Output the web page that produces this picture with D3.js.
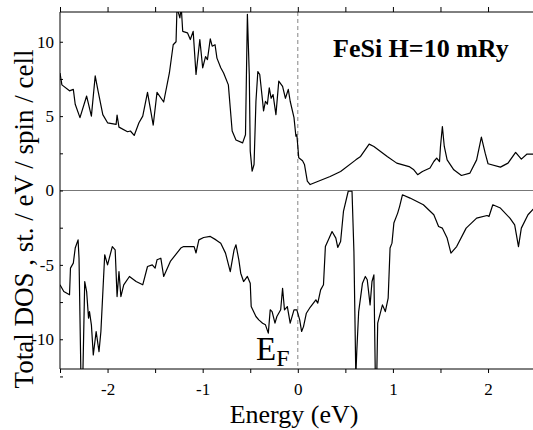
<!DOCTYPE html>
<html>
<head>
<meta charset="utf-8">
<script src="https://cdn.jsdelivr.net/npm/d3@7"></script>
<style>
  body { margin: 0; background: #fff; }
  text { font-family: "Liberation Serif", "Times New Roman", serif; }
  .axis path { display: none; }
  .axis line { stroke: #000; stroke-width: 1; }
  .axis text { font-size: 17px; fill: #000; font-family: "Liberation Serif", serif; }
</style>
</head>
<body>
<div id="chart"></div>
<script>
// spin-up DOS (upper panel)
var energyUp = [-2.50, -2.48, -2.40, -2.36, -2.34, -2.29, -2.22, -2.17, -2.13, -2.10, -2.05, -2.00,
  -1.91, -1.90, -1.88, -1.79, -1.76, -1.72, -1.67, -1.63, -1.58, -1.52, -1.48, -1.41, -1.35, -1.31,
  -1.28, -1.27, -1.24, -1.225, -1.21, -1.16, -1.13, -1.10, -1.07, -1.03, -1.00, -0.97, -0.95, -0.92,
  -0.90, -0.87, -0.85, -0.81, -0.78, -0.73, -0.71, -0.69, -0.65, -0.58, -0.55, -0.53, -0.51, -0.50,
  -0.48, -0.46, -0.44, -0.42, -0.40, -0.37, -0.36, -0.34, -0.32, -0.30, -0.28, -0.26, -0.23, -0.20,
  -0.16, -0.13, -0.10, -0.08, -0.04, -0.02, -0.01, 0.01, 0.05, 0.07, 0.10, 0.13, 0.34, 0.45, 0.61,
  0.66, 0.75, 0.80, 0.94, 1.04, 1.17, 1.22, 1.26, 1.31, 1.39, 1.43, 1.46, 1.49, 1.50, 1.52, 1.54,
  1.57, 1.64, 1.72, 1.81, 1.88, 1.93, 1.97, 2.00, 2.13, 2.21, 2.29, 2.35, 2.41, 2.50];
var dosUp = [7.9, 7.1, 6.7, 6.8, 5.8, 4.9, 6.35, 5.0, 7.7, 6.7, 5.1, 4.55,
  4.45, 5.07, 4.26, 3.95, 4.0, 3.7, 4.55, 5.0, 6.6, 4.4, 6.6, 5.95, 7.9, 9.8,
  10.0, 12.3, 11.6, 12.3, 10.7, 10.6, 10.15, 10.7, 7.8, 10.15, 8.25, 9.0, 8.8, 10.2,
  9.7, 9.8, 8.9, 8.25, 7.9, 7.1, 5.55, 4.0, 3.4, 3.2, 3.75, 11.85, 7.8, 2.65,
  1.3, 1.75, 6.0, 8.0, 7.8, 6.0, 5.35, 6.0, 5.8, 6.9, 6.2, 6.45, 5.1, 7.35,
  7.0, 6.2, 6.8, 6.0, 4.9, 3.65, 3.75, 2.2, 2.0, 1.75, 0.63, 0.4, 0.94, 1.28, 2.06,
  2.29, 3.12, 2.96, 2.29, 1.84, 1.61, 1.39, 1.06, 1.28, 1.51, 1.95, 2.18, 1.95, 2.96, 4.3, 2.96,
  2.06, 1.39, 1.01, 1.17, 2.06, 3.59, 2.51, 1.8, 1.57, 1.84, 2.56, 2.11, 2.45, 2.45];

// spin-down DOS (lower panel, plotted negative)
var energyDn = [-2.50, -2.46, -2.40, -2.39, -2.36, -2.34, -2.31, -2.30, -2.28, -2.26, -2.24, -2.22,
  -2.20, -2.19, -2.17, -2.15, -2.12, -2.09, -2.07, -2.03, -2.00, -1.95, -1.92, -1.90, -1.88, -1.86,
  -1.83, -1.77, -1.70, -1.63, -1.58, -1.53, -1.50, -1.48, -1.44, -1.41, -1.34, -1.23, -1.20, -1.09,
  -1.07, -1.04, -0.99, -0.92, -0.86, -0.81, -0.76, -0.71, -0.67, -0.65, -0.62, -0.60, -0.57, -0.53,
  -0.50, -0.49, -0.44, -0.41, -0.37, -0.34, -0.31, -0.29, -0.27, -0.24, -0.22, -0.18, -0.16, -0.14,
  -0.11, -0.08, -0.04, -0.01, 0.02, 0.04, 0.06, 0.09, 0.13, 0.19, 0.21, 0.24, 0.27, 0.29, 0.33,
  0.36, 0.40, 0.42, 0.45, 0.48, 0.53, 0.57, 0.59, 0.61, 0.62, 0.64, 0.68, 0.71, 0.73, 0.76, 0.78,
  0.80, 0.815, 0.83, 0.84, 0.89, 0.92, 0.95, 0.97, 0.99, 1.01, 1.05, 1.07, 1.10, 1.18, 1.32, 1.43,
  1.48, 1.52, 1.57, 1.61, 1.67, 1.77, 1.88, 1.99, 2.01, 2.05, 2.13, 2.23, 2.28, 2.32, 2.35, 2.42, 2.50];
var dosDn = [-6.34, -6.79, -7.01, -5.22, -4.88, -3.87, -3.32, -4.55, -12.5, -12.5, -6.12, -6.79,
  -8.58, -8.14, -9.03, -11.05, -9.48, -10.83, -9.48, -4.32, -5.0, -3.77, -3.99, -7.13, -5.45, -7.13,
  -6.34, -5.78, -6.12, -6.34, -5.11, -5.0, -5.22, -4.66, -4.55, -5.78, -4.77, -3.87, -3.77, -3.77,
  -4.2, -3.32, -3.16, -3.09, -3.32, -3.54, -4.21, -5.45, -3.99, -3.65, -4.66, -5.56, -6.12, -5.78,
  -6.23, -7.8, -8.47, -8.70, -8.92, -9.03, -9.59, -8.02, -8.14, -8.92, -8.47, -8.02, -6.57, -8.02,
  -7.80, -8.92, -8.02, -8.02, -8.70, -9.48, -9.15, -8.25, -7.85, -7.35, -7.57, -6.68, -6.34, -3.77, -3.20,
  -2.76, -3.20, -3.83, -3.43, -1.41, -0.05, -0.05, -4.10, -12.5, -10.83, -8.14, -6.23, -5.78, -6.0, -7.69, -6.12,
  -5.67, -12.5, -12.5, -8.92, -7.69, -8.14, -7.24, -3.87, -3.54, -2.19, -1.52, -1.08, -0.29, -0.51, -0.96, -1.63,
  -2.42, -2.53, -3.20, -4.21, -3.77, -2.53, -1.86, -1.68, -1.75, -0.96, -1.18, -1.86, -2.31, -3.77, -2.53, -1.63, -1.08];

var xMajor = [-2, -1, 0, 1, 2];
var xMinor = [-2.5, -2, -1.5, -1, -0.5, 0, 0.5, 1, 1.5, 2, 2.5];
var yMajor = [-10, -5, 0, 5, 10];
var yMinor = [-12.5, -10, -7.5, -5, -2.5, 0, 2.5, 5, 7.5, 10];

var svgWidth = 533;
var svgHeight = 430;

var svg = d3.select("#chart")
  .append("svg")
  .attr("width", svgWidth)
  .attr("height", svgHeight);

svg.append("rect").attr("width", svgWidth).attr("height", svgHeight).attr("fill", "#fff");

var xScale = d3.scaleLinear().domain([-2.5, 2.5]).range([60, 535.6]);
var yScale = d3.scaleLinear().domain([-12, 12]).range([369, 12]);

svg.append("clipPath").attr("id", "clip")
  .append("rect")
  .attr("x", 60).attr("y", 12)
  .attr("width", 476).attr("height", 357);

// zero line and Fermi level
svg.append("line")
  .attr("x1", 60).attr("x2", svgWidth)
  .attr("y1", yScale(0)).attr("y2", yScale(0))
  .attr("stroke", "#777").attr("stroke-width", 1);

svg.append("line")
  .attr("x1", xScale(0)).attr("x2", xScale(0))
  .attr("y1", 12).attr("y2", 369)
  .attr("stroke", "#666").attr("stroke-width", 0.8)
  .attr("stroke-dasharray", "4,3");

// frame
svg.append("line").attr("x1", 60).attr("x2", svgWidth).attr("y1", 12).attr("y2", 12)
  .attr("stroke", "#000").attr("stroke-width", 1);
svg.append("line").attr("x1", 60).attr("x2", svgWidth).attr("y1", 369).attr("y2", 369)
  .attr("stroke", "#000").attr("stroke-width", 1);
svg.append("line").attr("x1", 60).attr("x2", 60).attr("y1", 12).attr("y2", 369)
  .attr("stroke", "#000").attr("stroke-width", 1);

// axes
svg.append("g").attr("class", "axis")
  .attr("transform", "translate(0,369)")
  .call(d3.axisBottom(xScale).tickValues(xMinor).tickSize(4).tickFormat(""));
svg.append("g").attr("class", "axis")
  .attr("transform", "translate(0,369)")
  .call(d3.axisBottom(xScale).tickValues(xMajor).tickSize(0).tickPadding(14)
    .tickFormat(d => String(d)))
  .attr("font-family", "Liberation Serif");
svg.append("g").attr("class", "axis")
  .attr("transform", "translate(0,12)")
  .call(d3.axisTop(xScale).tickValues(xMinor).tickSize(5).tickFormat(""));
svg.append("g").attr("class", "axis")
  .attr("transform", "translate(60,0)")
  .call(d3.axisRight(yScale).tickValues(yMinor).tickSize(3).tickFormat(""));
svg.append("g").attr("class", "axis")
  .attr("transform", "translate(60,0)")
  .call(d3.axisLeft(yScale).tickValues(yMajor).tickSize(0).tickPadding(6)
    .tickFormat(d => String(d)))
  .attr("font-family", "Liberation Serif");

// curves
var line = d3.line().x(d => xScale(d[0])).y(d => yScale(d[1]));

var plot = svg.append("g").attr("clip-path", "url(#clip)");

plot.append("path")
  .datum(d3.zip(energyUp, dosUp))
  .attr("fill", "none").attr("stroke", "#000").attr("stroke-width", 1.2)
  .attr("stroke-linejoin", "round")
  .attr("d", line);

plot.append("path")
  .datum(d3.zip(energyDn, dosDn))
  .attr("fill", "none").attr("stroke", "#000").attr("stroke-width", 1.2)
  .attr("stroke-linejoin", "round")
  .attr("d", line);

// labels
svg.append("text")
  .attr("transform", "translate(33,219) rotate(-90)")
  .attr("text-anchor", "middle")
  .style("font-size", "27px")
  .text("Total DOS , st. / eV / spin / cell");

svg.append("text")
  .attr("x", 294).attr("y", 423)
  .attr("text-anchor", "middle")
  .style("font-size", "26px")
  .text("Energy (eV)");

svg.append("text")
  .attr("x", 333).attr("y", 57)
  .style("font-size", "26px").style("font-weight", "bold")
  .text("FeSi H=10 mRy");

var ef = svg.append("text")
  .attr("x", 256).attr("y", 360)
  .style("font-size", "33px");
ef.append("tspan").text("E");
ef.append("tspan").attr("dy", 6).style("font-size", "24px").text("F");
</script>
</body>
</html>
